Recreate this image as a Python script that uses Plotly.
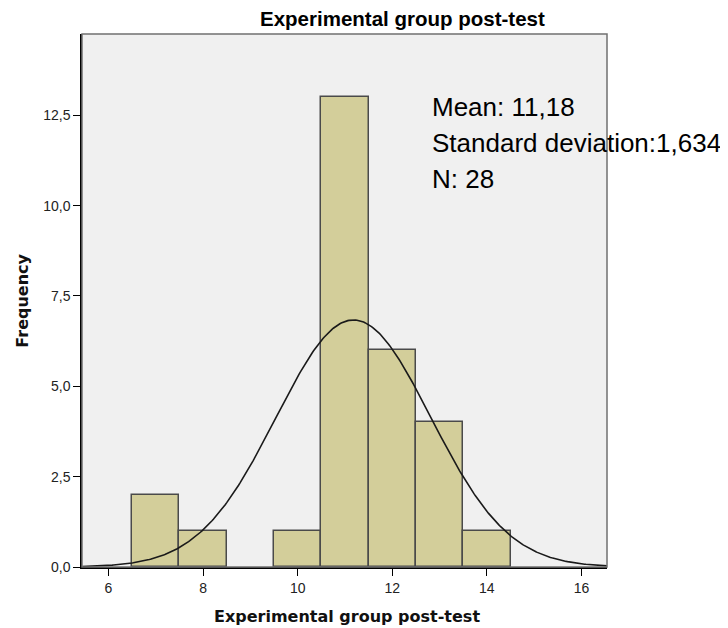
import numpy as np
import plotly.graph_objects as go

# Data
bin_centers = [7, 8, 10, 11, 12, 13, 14]
frequencies = [2, 1, 1, 13, 6, 4, 1]
bin_width = 1.0
mean_val = 11.18
sd_val = 1.634
n_val = 28
x_tickvals = [6, 8, 10, 12, 14, 16]
x_ticktext = ["6", "8", "10", "12", "14", "16"]
y_tickvals = [0, 2.5, 5, 7.5, 10, 12.5]
y_ticktext = ["0,0", "2,5", "5,0", "7,5", "10,0", "12,5"]
x_range = [5.44, 16.54]
y_range = [0, 14.75]

# Fitted normal curve (from the reported mean / SD / N)
xc = np.linspace(x_range[0], x_range[1], 400)
yc = n_val * bin_width / (sd_val * np.sqrt(2 * np.pi)) * np.exp(-0.5 * ((xc - mean_val) / sd_val) ** 2)

fig = go.Figure()
fig.add_trace(go.Bar(
    x=bin_centers, y=frequencies, width=bin_width,
    marker=dict(color="#D3CE9A", line=dict(color="#4a4a4a", width=1.5)),
    showlegend=False, hoverinfo="x+y",
))
fig.add_trace(go.Scatter(
    x=xc, y=yc, mode="lines", line=dict(color="#1a1a1a", width=1.6),
    showlegend=False, hoverinfo="skip",
))

axis_font = dict(family="Liberation Sans, Arial", size=14, color="#222")
fig.update_layout(
    width=720, height=620,
    margin=dict(l=74, r=121, t=26, b=61),
    paper_bgcolor="white", plot_bgcolor="#F0F0F0",
    bargap=0,
    xaxis=dict(range=x_range, tickvals=x_tickvals, ticktext=x_ticktext,
               showgrid=False, zeroline=False, showline=True, linecolor="black", linewidth=1.5,
               ticks="outside", ticklen=7, tickwidth=1.2, tickcolor="black",
               tickfont=axis_font, fixedrange=True),
    yaxis=dict(range=y_range, tickvals=y_tickvals, ticktext=y_ticktext,
               showgrid=False, zeroline=False, showline=True, linecolor="black", linewidth=1.5,
               ticks="outside", ticklen=7, tickwidth=1.2, tickcolor="black",
               tickfont=axis_font, fixedrange=True),
    shapes=[dict(type="rect", xref="x domain", yref="y domain", x0=0, x1=1, y0=0, y1=1,
                 line=dict(color="#707070", width=1.5), layer="above")],
)

stat_font = dict(family="Liberation Sans, Arial", size=26, color="black")
stat_lines = ["Mean: 11,18", "Standard deviation:1,634", "N: 28"]
stat_y = [0.863, 0.7955, 0.728]
for txt, yy in zip(stat_lines, stat_y):
    fig.add_annotation(text=txt, xref="paper", yref="paper", x=0.663, y=yy,
                       xanchor="left", yanchor="middle", showarrow=False, font=stat_font)

fig.add_annotation(text="<b>Experimental group post-test</b>", xref="paper", yref="paper",
                   x=0.611, y=1.030, xanchor="center", yanchor="middle", showarrow=False,
                   font=dict(family="Liberation Sans, Arial", size=20.5, color="black"))
fig.add_annotation(text="<b>Experimental group post-test</b>", xref="paper", yref="paper",
                   x=0.505, y=-0.093, xanchor="center", yanchor="middle", showarrow=False,
                   font=dict(family="DejaVu Sans", size=16, color="#111"))
fig.add_annotation(text="<b>Frequency</b>", xref="paper", yref="paper",
                   x=-0.114, y=0.5, xanchor="center", yanchor="middle", showarrow=False,
                   textangle=-90, font=dict(family="DejaVu Sans", size=16, color="#111"))

fig.write_html("out.html")
